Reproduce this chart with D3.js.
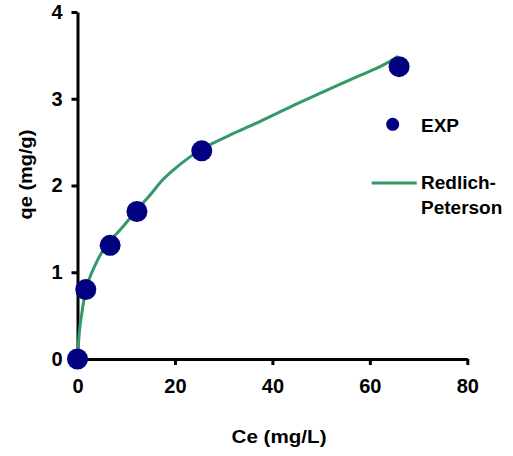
<!DOCTYPE html>
<html>
<head>
<meta charset="utf-8">
<script src="https://cdn.jsdelivr.net/npm/d3@7"></script>
<style>
  html, body { margin: 0; padding: 0; background: #fff; }
  svg { display: block; }
  text { font-family: "Liberation Sans", Arial, sans-serif; font-weight: bold; fill: #000; }
</style>
</head>
<body>
<svg id="chart" width="513" height="456"></svg>
<script>
// Experimental data
const expCe = [0, 1.7, 6.7, 12.2, 25.5, 66.0];
const expQe = [0, 0.80, 1.31, 1.70, 2.40, 3.37];

// Redlich-Peterson fitted curve
const rpCe = [0, 0.1, 0.2, 0.4, 0.9, 1.7, 2.6, 3.6, 5.0, 6.7, 9.4, 12.2, 14.9, 16.9, 19.7, 23.1, 25.5, 27.5, 32.0, 37.5, 45.0, 52.0, 58.0, 62.8, 65.8];
const rpQe = [0, 0.10, 0.18, 0.32, 0.53, 0.80, 0.95, 1.08, 1.23, 1.36, 1.53, 1.72, 1.89, 2.03, 2.18, 2.33, 2.42, 2.48, 2.60, 2.74, 2.94, 3.12, 3.27, 3.39, 3.49];

const xTicks = [0, 20, 40, 60, 80];
const yTicks = [0, 1, 2, 3, 4];

const xTitle = "Ce (mg/L)";
const yTitle = "qe (mg/g)";
const legendLabels = ["EXP", "Redlich-", "Peterson"];

const navy = "#000080";
const green = "#339966";

const svg = d3.select("#chart");

const x = d3.scaleLinear().domain([0, 80]).range([77.5, 467.3]);
const y = d3.scaleLinear().domain([0, 4]).range([359, 12]);

// Axes
const xAxis = d3.axisBottom(x).tickValues(xTicks).tickFormat(d3.format("d"))
  .tickSize(6).tickSizeOuter(0).tickPadding(14);
const yAxis = d3.axisLeft(y).tickValues(yTicks).tickFormat(d3.format("d"))
  .tickSize(6).tickSizeOuter(0).tickPadding(9);

const gx = svg.append("g").attr("transform", `translate(0,${y(0)})`).call(xAxis);
const gy = svg.append("g").attr("transform", `translate(${x(0)},0)`).call(yAxis);

[gx, gy].forEach(g => {
  g.attr("font-size", null).attr("font-family", null);
  g.select(".domain").attr("stroke", "#000").attr("stroke-width", 3);
  g.selectAll(".tick line").attr("stroke", "#000").attr("stroke-width", 3);
  g.selectAll(".tick text")
    .attr("fill", "#000")
    .style("font-family", "'Liberation Sans', Arial, sans-serif")
    .style("font-weight", "bold")
    .style("font-size", "20px");
});

// Axis titles
svg.append("text")
  .attr("x", 279)
  .attr("y", 443)
  .attr("text-anchor", "middle")
  .attr("textLength", 95)
  .attr("lengthAdjust", "spacingAndGlyphs")
  .style("font-size", "19px")
  .text(xTitle);

svg.append("text")
  .attr("transform", "translate(32,174.5) rotate(-90)")
  .attr("text-anchor", "middle")
  .attr("textLength", 90)
  .attr("lengthAdjust", "spacingAndGlyphs")
  .style("font-size", "19px")
  .text(yTitle);

// Fitted curve
const rpData = rpCe.map((c, i) => [c, rpQe[i]]);
const line = d3.line().x(d => x(d[0])).y(d => y(d[1])).curve(d3.curveMonotoneX);
svg.append("path")
  .datum(rpData)
  .attr("d", line)
  .attr("fill", "none")
  .attr("stroke", green)
  .attr("stroke-width", 3);

// Experimental points
const expData = expCe.map((c, i) => [c, expQe[i]]);
svg.append("g").selectAll("circle")
  .data(expData)
  .join("circle")
  .attr("cx", d => x(d[0]))
  .attr("cy", d => y(d[1]))
  .attr("r", 10.5)
  .attr("fill", navy);

// Legend
const leg = svg.append("g");
leg.append("circle").attr("cx", 392.7).attr("cy", 124.3).attr("r", 6.5).attr("fill", navy);
leg.append("text").attr("x", 421).attr("y", 132).style("font-size", "19px").text(legendLabels[0]);
leg.append("line").attr("x1", 371.7).attr("x2", 416.7).attr("y1", 183).attr("y2", 183)
  .attr("stroke", green).attr("stroke-width", 3);
leg.append("text").attr("x", 421).attr("y", 189).style("font-size", "19px").text(legendLabels[1]);
leg.append("text").attr("x", 421).attr("y", 214).style("font-size", "19px").text(legendLabels[2]);
</script>
</body>
</html>
